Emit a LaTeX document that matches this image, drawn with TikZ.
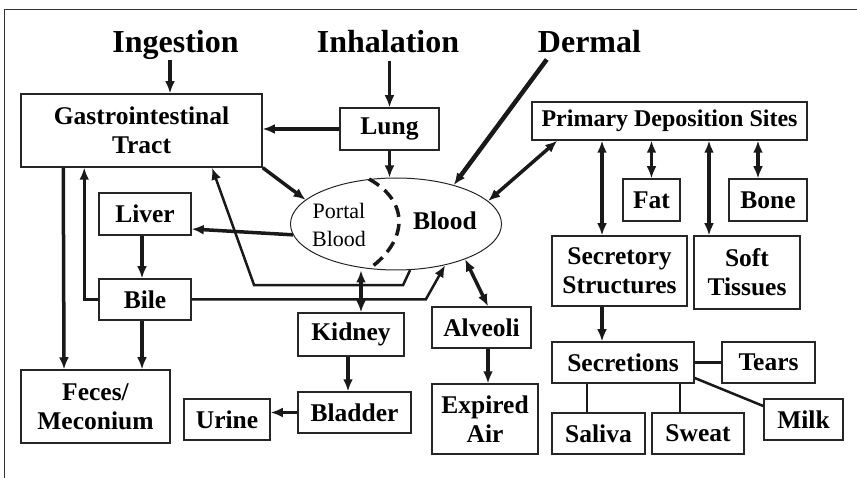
\documentclass[tikz,border=0pt]{standalone}
\usepackage{fontspec}
\setmainfont{Liberation Serif}
\usetikzlibrary{arrows.meta,shapes.geometric}

\begin{document}
\begin{tikzpicture}[x=1pt,y=-1pt,
    box/.style={draw=black!85, line width=1.5pt, inner sep=0pt, align=center, font=\fontsize{25.5}{29}\selectfont\bfseries},
    route/.style={inner sep=0pt, anchor=base, font=\fontsize{32}{34}\selectfont\bfseries},
    arr/.style={-{Latex[length=12pt,width=10pt]}, line width=3.5pt, black!90},
    dbl/.style={{Latex[length=12pt,width=10pt]}-{Latex[length=12pt,width=10pt]}, line width=3.5pt, black!90},
    link/.style={line width=2.5pt, black!90}]
\useasboundingbox (0,0) rectangle (857,478);
\draw[line width=1.5pt, black!80] (4.5,478) -- (4.5,9.5) -- (857,9.5);

% routes of entry
\node[route] (ingest) at (175.5,53) {Ingestion};
\node[route] (inhale) at (388,53) {Inhalation};
\node[route] (dermal) at (589.5,53) {Dermal};

% boxes
\node[box, minimum width=241pt, minimum height=73pt] (gi) at (141.5,130.5) {Gastrointestinal\\Tract};
\node[box, minimum width=99pt, minimum height=42pt] (lung) at (389.5,129) {Lung};
\node[box, minimum width=92pt, minimum height=42pt] (liver) at (145,214) {Liver};
\node[box, minimum width=92pt, minimum height=41pt] (bile) at (145,299.5) {Bile};
\node[box, minimum width=149pt, minimum height=73pt] (feces) at (95.5,406.5) {Feces/\\Meconium};
\node[box, minimum width=86pt, minimum height=41pt] (urine) at (227,419.5) {Urine};
\node[box, minimum width=106pt, minimum height=43pt] (kidney) at (351,334.5) {Kidney};
\node[box, minimum width=113pt, minimum height=41pt] (bladder) at (354.5,412.5) {Bladder};
\node[box, minimum width=99pt, minimum height=41pt] (alveoli) at (481.5,327.5) {Alveoli};
\node[box, minimum width=106pt, minimum height=70pt] (expired) at (485,419) {Expired\\Air};
\node[box, minimum width=275pt, minimum height=38pt, font=\fontsize{24}{28}\selectfont\bfseries] (pds) at (669.5,121) {Primary Deposition Sites};
\node[box, minimum width=57pt, minimum height=42pt] (fat) at (651.5,200) {Fat};
\node[box, minimum width=78pt, minimum height=42pt] (bone) at (768,200) {Bone};
\node[box, minimum width=135pt, minimum height=70pt] (secstruct) at (619.5,271) {Secretory\\Structures};
\node[box, minimum width=106pt, minimum height=73pt] (soft) at (747,272.5) {Soft\\Tissues};
\node[box, minimum width=142pt, minimum height=41pt] (secretions) at (623,362.5) {Secretions};
\node[box, minimum width=93pt, minimum height=41pt] (tears) at (768.5,362.5) {Tears};
\node[box, minimum width=79pt, minimum height=41pt] (milk) at (803.5,419.5) {Milk};
\node[box, minimum width=93pt, minimum height=41pt] (saliva) at (598.5,433.5) {Saliva};
\node[box, minimum width=92pt, minimum height=41pt] (sweat) at (698,433.5) {Sweat};

% blood
\node[draw=black!85, ellipse, line width=1pt, inner sep=0pt, minimum width=211pt, minimum height=92pt] (blood) at (396,224) {};
\draw[line width=3.5pt, black!90, dash pattern=on 12pt off 7pt] (blood.121) .. controls +(40,22) and +(40,-29) .. (blood.239);
\node[align=center, inner sep=0pt, font=\fontsize{22}{28}\selectfont] (portal) at (339,224.5) {Portal\\Blood};
\node[anchor=base, inner sep=0pt, font=\fontsize{25.5}{29}\selectfont\bfseries] (bloodlbl) at (445,230) {Blood};

% intake
\draw[arr] ([xshift=-5.5pt]ingest.south) -- ([xshift=28.5pt]gi.north);
\draw[arr, shorten <=7pt] (inhale.south -| lung.north) -- (lung.north);
\draw[arr, line width=4.5pt] ([xshift=9pt,yshift=-6pt]dermal.south west) -- (blood.34);
\draw[arr] (lung.west) -- (lung.west -| gi.east);
\draw[arr] (lung.south) -- (lung.south |- blood.north);

% gut side
\draw[arr] (gi.south east) -- (blood.165);
\draw[arr] (blood.186) -- ([yshift=-15pt]liver.east);
\draw[arr] ([xshift=-3pt]liver.south) -- ([xshift=-3pt]bile.north);
\draw[arr] ([xshift=-3pt]bile.south) -- ([xshift=46.5pt]feces.north);
\draw[arr] ([xshift=43pt]gi.south west) -- ([xshift=-31.5pt]feces.north);
\draw[arr, line width=2.5pt] (bile.west) -| ([xshift=64pt]gi.south west);
\draw[arr, line width=2.5pt] (blood.287) -- ++(-7,15) -- ++(-149,0) -- ([xshift=70.5pt]gi.south);
\draw[arr, line width=2.5pt] (bile.east) -- ++(234,0) -- (blood.320);

% urine and air
\coordinate (kidtop) at ([xshift=10pt]kidney.north);
\draw[dbl] (kidtop |- blood.south) -- (kidtop);
\draw[arr] ([xshift=-3pt]kidney.south) -- ([xshift=-6.5pt]bladder.north);
\draw[arr] (bladder.west) -- (bladder.west -| urine.east);
\draw[dbl] (blood.333) -- ([xshift=6.5pt]alveoli.north);
\draw[arr] ([xshift=6.5pt]alveoli.south) -- ([xshift=3pt]expired.north);

% deposition
\draw[dbl] (blood.14) -- ([xshift=26pt]pds.south west);
\foreach \site/\dx in {secstruct/-17.5, fat/0, soft/-38, bone/-10}{
  \coordinate (sitetop) at ([xshift=\dx pt]\site.north);
  \draw[dbl] (sitetop |- pds.south) -- (sitetop);
}
\draw[arr] ([xshift=-17.5pt]secstruct.south) -- ([xshift=-21pt]secretions.north);
\draw[link] (secretions.east) -- (secretions.east -| tears.west);
\draw[link] ([yshift=-15.5pt]secretions.east) -- ([yshift=13.5pt]milk.west);
\draw[link] ([xshift=-36pt]secretions.south) -- ([xshift=-11.5pt]saliva.north);
\draw[link] ([xshift=57pt]secretions.south) -- ([xshift=-18pt]sweat.north);
\end{tikzpicture}
\end{document}
